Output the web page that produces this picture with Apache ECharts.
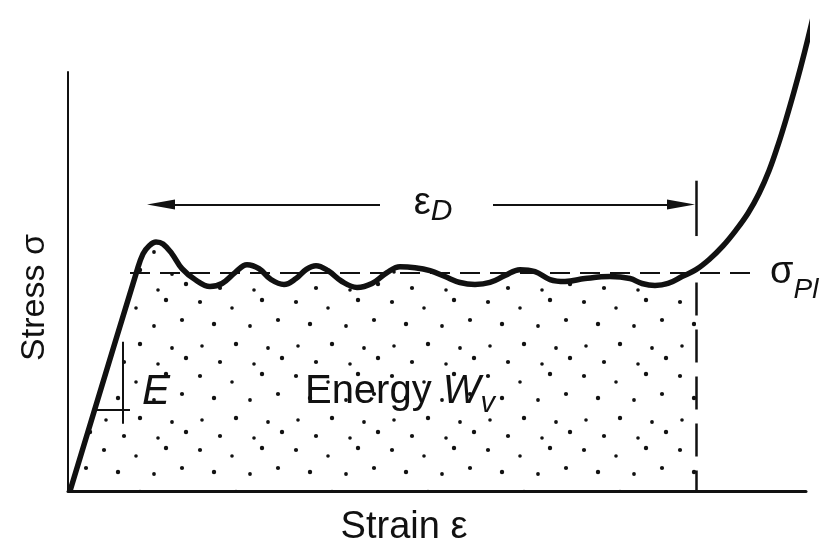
<!DOCTYPE html>
<html>
<head>
<meta charset="utf-8">
<title>Stress - strain</title>
<script src="https://cdn.jsdelivr.net/npm/echarts@6.0.0/dist/echarts.min.js"></script>
<style>
html,body{margin:0;padding:0;background:#fff;}
#chart{width:828px;height:552px;}
</style>
</head>
<body>
<div id="chart"></div>
<script>
// curve (arbitrary units)
var strain = [2,69,75,81,88,95,104,114,127,142, 154,167,179,191,203,216,228,238,248,260,
	274,289,304,319,332,347,362,377,392,407, 422,437,452,467,482,497,517,542,562,574,
	587,600,614,628,642,655,668,680,691,701, 710,718,726,733,740,747];
var stress = [0,223,240,248,252,250,240,225,214,207, 210,221,229,225,214,209,215,224,228,223,
	212,206,210,221,227,226,223,217,211,209, 211,218,224,222,214,212,215,217,215,210,
	208,210,217,224,235,248,264,281,301,324, 350,376,404,430,458,488];
var strainMax = 738, stressMax = 424;
var densStrain = 628;     // eps_D
var plateauStress = 221;  // sigma_pl
var arrowStress = 290;
var slopeX = [28,62], slopeY = [68,151];   // little E triangle

var FONT = 'Liberation Sans';

var curve = [], energy = [];
for (var i = 0; i < strain.length; i++) {
	curve.push([strain[i], stress[i]]);
	if (strain[i] <= densStrain) energy.push([strain[i], stress[i]]);
}

// stipple for the energy area
var dots = [[8,6,2.1],[40,12,1.8],[70,4,2.2],[22,28,2.2],[58,30,1.9],[86,24,2.1],
	[10,50,1.8],[44,48,2.2],[76,52,1.9],[28,66,2.1],[62,68,1.8],[90,62,2.2]];
var tile = document.createElement('canvas');
tile.width = 96; tile.height = 74;
var ctx = tile.getContext('2d');
ctx.fillStyle = '#111';
dots.forEach(function(d){
	ctx.beginPath(); ctx.arc(d[0], d[1], d[2], 0, Math.PI*2); ctx.fill();
});

var chart = echarts.init(document.getElementById('chart'));
var sub = function(size, pad){
	return {fontSize:size, fontStyle:'italic', fontFamily:FONT, color:'#111', padding:[pad,0,0,0]};
};
var line = function(w, type){ return {color:'#111', width:w, type:type}; };

option = {
	animation:false,
	grid:{left:68, right:22, top:72, bottom:56},
	xAxis:{
		type:'value', min:0, max:strainMax,
		name:'Strain ε', nameLocation:'middle', nameGap:18,
		nameTextStyle:{fontSize:38, fontFamily:FONT, color:'#111', padding:[0,66,0,0]},
		axisLine:{lineStyle:{color:'#111', width:3}},
		axisTick:{show:false}, axisLabel:{show:false}, splitLine:{show:false}
	},
	yAxis:{
		type:'value', min:0, max:stressMax,
		name:'Stress σ', nameLocation:'middle', nameGap:16,
		nameTextStyle:{fontSize:34, fontFamily:FONT, color:'#111', padding:[0,32,0,0]},
		axisLine:{lineStyle:{color:'#111', width:2}},
		axisTick:{show:false}, axisLabel:{show:false}, splitLine:{show:false}
	},
	series:[{
		name:'energy', type:'line', data:energy, smooth:0.4, symbol:'none', z:1,
		lineStyle:{width:0},
		areaStyle:{color:{image:tile, repeat:'repeat'}, opacity:1},
		markLine:{
			silent:true, symbol:['none','none'],
			label:{show:false},
			data:[
				// sigma_pl dashed line
				[{coord:[62, plateauStress], lineStyle:{color:'#111', width:2, type:[20,10]},
					label:{show:true, position:'end', distance:12, formatter:'{a|σ}{b|Pl}',
						rich:{a:{fontSize:38, fontFamily:FONT, color:'#111'}, b:sub(28, 36)}}},
				 {coord:[690, plateauStress]}],
				// eps_D vertical
				[{coord:[densStrain, 211], lineStyle:{color:'#111', width:2.5, type:[33,14]}},
				 {coord:[densStrain, 0]}],
				[{coord:[densStrain, 258], lineStyle:line(2.5,'solid')}, {coord:[densStrain, 314]}],
				// double arrow
				[{coord:[93, arrowStress], symbol:'triangle', symbolSize:[10,28], lineStyle:line(2,'solid')},
				 {coord:[312, arrowStress], symbol:'none'}],
				[{coord:[425, arrowStress], symbol:'none', lineStyle:line(2,'solid')},
				 {coord:[613, arrowStress], symbol:'triangle', symbolSize:[10,28]}],
				// slope triangle
				[{coord:[55, slopeY[0]], lineStyle:line(2,'solid')}, {coord:[55, slopeY[1]]}],
				[{coord:[slopeX[0], 82], lineStyle:line(2,'solid')}, {coord:[slopeX[1], 82]}]
			]
		},
		markPoint:{
			silent:true, symbol:'circle', symbolSize:0,
			label:{show:true, position:'inside', color:'#111', fontFamily:FONT},
			data:[
				{coord:[365, arrowStress + 1], label:{formatter:'{a|ε}{b|D}',
					rich:{a:{fontSize:38, fontFamily:FONT, color:'#111'}, b:sub(30, 16)}}},
				{coord:[332, 100], label:{formatter:'{n|Energy }{w|W}{v|v}',
					rich:{n:{fontSize:40, fontFamily:FONT, color:'#111'},
						w:{fontSize:40, fontStyle:'italic', fontFamily:FONT, color:'#111'},
						v:sub(29, 24)}}},
				{coord:[88, 100], label:{formatter:'E', fontSize:42, fontStyle:'italic'}}
			]
		}
	},{
		name:'curve', type:'line', data:curve, smooth:0.4, symbol:'none', z:3,
		clip:false,
		lineStyle:{color:'#111', width:5.5}
	}]
};
chart.setOption(option);
</script>
</body>
</html>
